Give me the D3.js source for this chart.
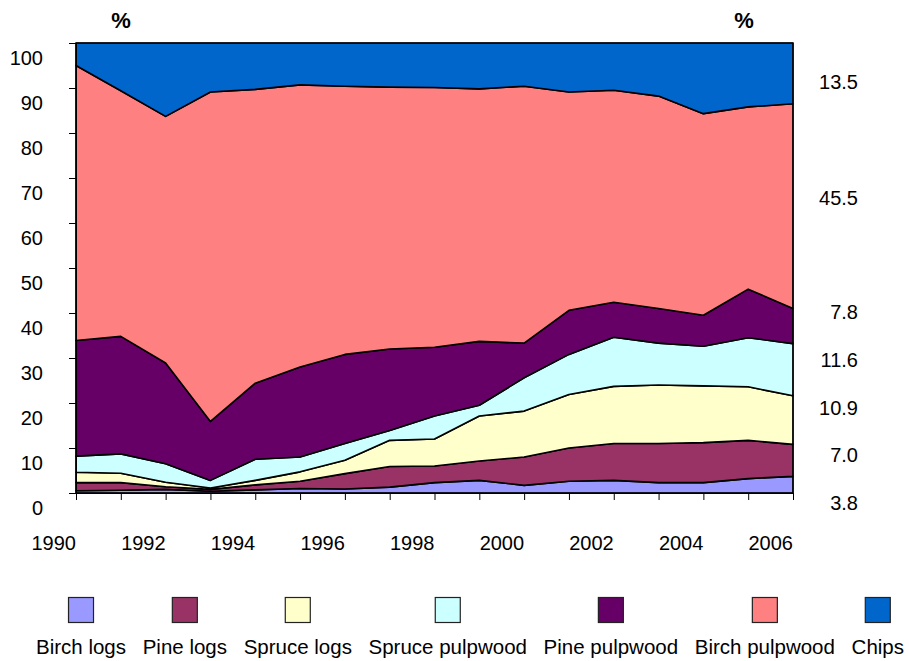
<!DOCTYPE html>
<html>
<head>
<meta charset="utf-8">
<script src="https://cdn.jsdelivr.net/npm/d3@7"></script>
<style>
  body { margin: 0; background: #fff; }
  svg { display: block; font-family: 'Liberation Sans', Arial, sans-serif; }
</style>
</head>
<body>
<svg id="chart" width="909" height="661"></svg>
<script>
const years = [1990, 1991, 1992, 1993, 1994, 1995, 1996, 1997, 1998, 1999, 2000, 2001, 2002, 2003, 2004, 2005, 2006];
const yearLabels = [1990, 1992, 1994, 1996, 1998, 2000, 2002, 2004, 2006];
const yTicks = [0, 10, 20, 30, 40, 50, 60, 70, 80, 90, 100];

// shares of each assortment, %
const birchLogs = [0.5, 0.6, 0.8, 0.4, 0.7, 1.0, 0.9, 1.3, 2.3, 2.8, 1.7, 2.6, 2.8, 2.3, 2.3, 3.2, 3.7];
const pineLogs = [1.8, 1.7, 0.6, 0.4, 1.1, 1.6, 3.4, 4.6, 3.7, 4.3, 6.3, 7.4, 8.2, 8.7, 8.9, 8.5, 7.1];
const spruceLogs = [2.3, 2.1, 1.0, 0.3, 1.0, 2.1, 3.0, 5.8, 6.0, 10.0, 10.2, 11.9, 12.7, 13.0, 12.6, 11.9, 10.8];
const sprucePulpwood = [3.6, 4.3, 4.1, 1.7, 4.7, 3.3, 3.7, 2.2, 5.1, 2.4, 7.4, 8.9, 10.9, 9.3, 8.8, 10.9, 11.6];
const pinePulpwood = [25.7, 26.1, 22.4, 13.1, 16.9, 20.0, 19.8, 18.1, 15.3, 14.2, 7.7, 9.8, 7.8, 7.7, 6.9, 10.8, 7.8];
const birchPulpwood = [61.1, 54.6, 54.8, 73.2, 65.3, 62.7, 59.6, 58.2, 57.7, 56.1, 57.1, 48.5, 47.1, 47.2, 44.8, 40.5, 45.5];
const chips = [5.0, 10.6, 16.3, 10.9, 10.3, 9.3, 9.6, 9.8, 9.9, 10.2, 9.6, 10.9, 10.5, 11.8, 15.7, 14.2, 13.5];

// labels on the right: share in the last year
const lastYearLabels = ['3.8', '7.0', '10.9', '11.6', '7.8', '45.5', '13.5'];

const seriesNames = ['Birch logs', 'Pine logs', 'Spruce logs', 'Spruce pulpwood', 'Pine pulpwood', 'Birch pulpwood', 'Chips'];
const seriesValues = [birchLogs, pineLogs, spruceLogs, sprucePulpwood, pinePulpwood, birchPulpwood, chips];
const colors = ['#9999ff', '#993366', '#ffffcc', '#ccffff', '#660066', '#ff8080', '#0066cc'];

const margin = { left: 76, right: 116, top: 43, bottom: 168 };
const W = 909, H = 661;

const svg = d3.select('#chart');

const rows = years.map((year, i) => {
  const row = { year };
  seriesNames.forEach((name, k) => { row[name] = seriesValues[k][i]; });
  return row;
});

const layers = d3.stack().keys(seriesNames)(rows);

const x = d3.scaleLinear()
  .domain(d3.extent(years))
  .range([margin.left, W - margin.right]);
const y = d3.scaleLinear()
  .domain([0, 100])
  .range([H - margin.bottom, margin.top]);

const area = d3.area()
  .x(d => x(d.data.year))
  .y0(d => y(d[0]))
  .y1(d => y(d[1]));

svg.append('g')
  .selectAll('path')
  .data(layers)
  .join('path')
  .attr('d', area)
  .attr('fill', (d, i) => colors[i])
  .attr('stroke', '#000')
  .attr('stroke-width', 1.6)
  .attr('stroke-linejoin', 'round');

// plot frame
svg.append('rect')
  .attr('x', x.range()[0])
  .attr('y', y.range()[1])
  .attr('width', x.range()[1] - x.range()[0])
  .attr('height', y.range()[0] - y.range()[1])
  .attr('fill', 'none')
  .attr('stroke', '#000')
  .attr('stroke-width', 1);

// left axis
const yAxis = svg.append('g')
  .attr('transform', `translate(${margin.left},0)`)
  .call(d3.axisLeft(y).tickValues(yTicks).tickSize(7).tickFormat(''));
yAxis.select('.domain').attr('stroke', '#000');
yAxis.selectAll('.tick line').attr('stroke', '#000');

// tick labels sit a bit below their ticks, as in the original
svg.append('g')
  .selectAll('text')
  .data(yTicks)
  .join('text')
  .attr('x', 43)
  .attr('y', d => y(d) + 22)
  .attr('text-anchor', 'end')
  .attr('font-size', 20)
  .attr('fill', '#000')
  .text(d => d);

// bottom axis
const xAxis = svg.append('g')
  .attr('transform', `translate(0,${y(0)})`)
  .call(d3.axisBottom(x).tickValues(years).tickSize(7).tickFormat(''));
xAxis.select('.domain').attr('stroke', '#000');
xAxis.selectAll('.tick line').attr('stroke', '#000');

svg.append('g')
  .selectAll('text')
  .data(yearLabels)
  .join('text')
  .attr('x', d => x(d))
  .attr('y', 550)
  .attr('text-anchor', 'end')
  .attr('font-size', 20)
  .attr('fill', '#000')
  .text(d => d);

// right-hand labels
const rightY = [503, 455, 408, 360, 312, 198, 82];
svg.append('g')
  .selectAll('text')
  .data(lastYearLabels)
  .join('text')
  .attr('x', 858)
  .attr('y', (d, i) => rightY[i] + 7)
  .attr('text-anchor', 'end')
  .attr('font-size', 20)
  .attr('fill', '#000')
  .text(d => d);

// % units
svg.append('g')
  .selectAll('text')
  .data([121, 744])
  .join('text')
  .attr('x', d => d)
  .attr('y', 28)
  .attr('text-anchor', 'middle')
  .attr('font-size', 22)
  .attr('font-weight', 'bold')
  .text('%');

// legend: labels in a row, swatch centred above each
const legend = svg.append('g');
const labels = legend.selectAll('text')
  .data(seriesNames)
  .join('text')
  .attr('y', 654)
  .attr('font-size', 20.5)
  .attr('fill', '#000')
  .text(d => d);

const widths = [];
labels.each(function () { widths.push(this.getComputedTextLength()); });
const left = 36, right = 904;
const gap = (right - left - d3.sum(widths)) / (widths.length - 1);
let cursor = left;
const centers = widths.map(w => {
  const c = cursor + w / 2;
  cursor += w + gap;
  return c;
});
labels.attr('x', (d, i) => centers[i]).attr('text-anchor', 'middle');

legend.selectAll('rect')
  .data(seriesNames)
  .join('rect')
  .attr('x', (d, i) => centers[i] - 12.5)
  .attr('y', 597.5)
  .attr('width', 25)
  .attr('height', 25)
  .attr('fill', (d, i) => colors[i])
  .attr('stroke', '#222')
  .attr('stroke-width', 1.2);
</script>
</body>
</html>
